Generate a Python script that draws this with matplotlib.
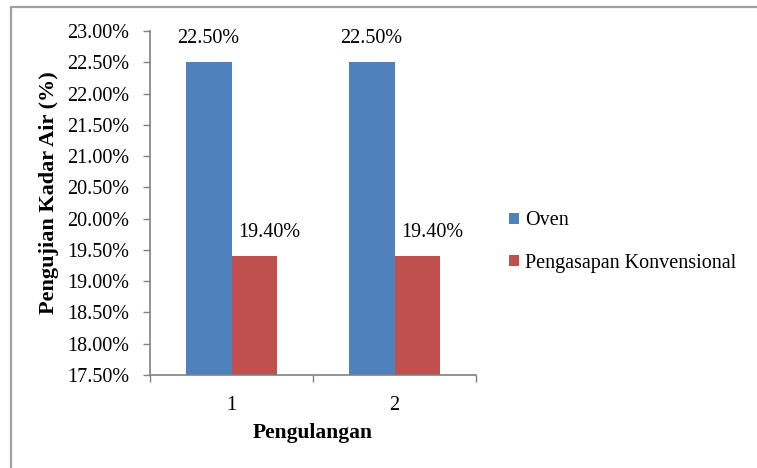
import matplotlib.pyplot as plt
from matplotlib.patches import Rectangle
from matplotlib.ticker import FuncFormatter, FixedLocator

# Moisture content test results for each repetition
repetitions = ['1', '2']
oven = [22.50, 22.50]
konvensional = [19.40, 19.40]
series_names = ['Oven', 'Pengasapan Konvensional']

plt.rcParams['font.family'] = ['Liberation Serif', 'DejaVu Serif']

fig = plt.figure(figsize=(7.57, 4.68), dpi=100)

# light grey frame round the whole chart
fig.patches.append(Rectangle((11 / 757, -0.1), 1.2, 1 - 7 / 468 + 0.1,
                             transform=fig.transFigure, fill=False,
                             edgecolor='#a0a0a0', linewidth=1.6))

ax = fig.add_axes([150 / 757, 1 - 375 / 468, 326 / 757, 344 / 468])

x = list(range(len(repetitions)))
w = 0.28
b1 = ax.bar([i - w / 2 for i in x], oven, w, color='#4F81BD', label=series_names[0])
b2 = ax.bar([i + w / 2 for i in x], konvensional, w, color='#C0504D', label=series_names[1])

for rect, v in zip(b1, oven):
    ax.annotate('%.2f%%' % v, (rect.get_x() + rect.get_width() / 2, v),
                xytext=(0, 10), textcoords='offset points',
                ha='center', va='bottom', fontsize=14.5)
for rect, v in zip(b2, konvensional):
    ax.annotate('%.2f%%' % v, (rect.get_x() + rect.get_width() / 2, v),
                xytext=(11, 10), textcoords='offset points',
                ha='center', va='bottom', fontsize=14.5)

ax.set_ylim(17.5, 23.0)
ax.set_yticks([17.5 + 0.5 * k for k in range(12)])
ax.yaxis.set_major_formatter(FuncFormatter(lambda v, p: '%.2f%%' % v))
ax.set_xlim(-0.5, 1.5)
ax.set_xticks(x)
ax.set_xticklabels(repetitions)
ax.xaxis.set_minor_locator(FixedLocator([-0.5, 0.5, 1.5]))

ax.tick_params(axis='y', direction='out', length=5, width=1, color='#808080',
               labelsize=14.5, pad=10)
ax.tick_params(axis='x', which='major', length=0, labelsize=14.5, pad=15)
ax.tick_params(axis='x', which='minor', direction='out', length=5, width=1, color='#808080')

for s in ['top', 'right']:
    ax.spines[s].set_visible(False)
for s in ['left', 'bottom']:
    ax.spines[s].set_color('#808080')
    ax.spines[s].set_linewidth(1.2)

ax.set_xlabel('Pengulangan', fontsize=15.5, fontweight='bold', labelpad=6)
fig.text(49 / 757, 1 - 193 / 468, 'Pengujian Kadar Air (%)', rotation=90,
         ha='center', va='center', fontsize=16, fontweight='bold')

ax.legend(loc='center left', bbox_to_anchor=(509 / 757, 1 - 242 / 468),
          bbox_transform=fig.transFigure, frameon=False, fontsize=14.5,
          borderpad=0, borderaxespad=0,
          handlelength=0.5, handleheight=0.5, handletextpad=0.3,
          labelspacing=1.15)

fig.savefig('out.png', dpi=100)
